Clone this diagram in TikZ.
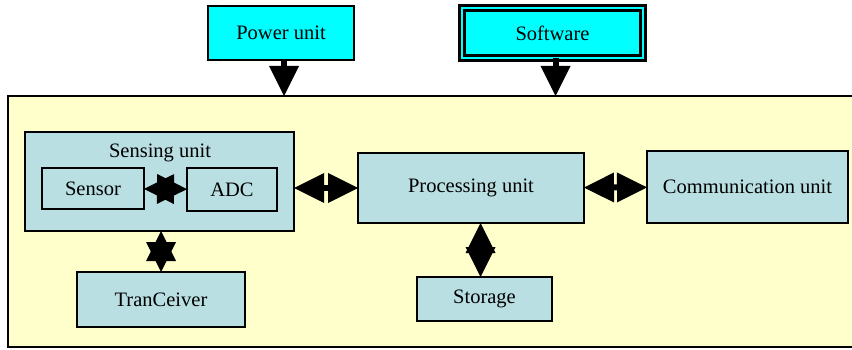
\documentclass[tikz,border=0pt]{standalone}
\usepackage{fontspec}
\setmainfont{Liberation Serif}
\usetikzlibrary{arrows.meta}
\definecolor{boardyellow}{HTML}{FFFFCC}
\definecolor{unitblue}{HTML}{B9DFE3}
\definecolor{supplycyan}{RGB}{0,255,255}
\tikzset{
	unit/.style={draw, line width=2.2pt, fill=unitblue, inner sep=0pt, outer sep=0pt,
		font=\fontsize{20.5}{24}\selectfont},
	supply/.style={unit, fill=supplycyan},
	title/.style={inner sep=0pt, font=\fontsize{20.5}{24}\selectfont},
	link/.style={line width=6pt},
	>={Triangle[length=30pt,width=30pt,line width=0pt]}
}
\begin{document}
\begin{tikzpicture}[x=1pt,y=-1pt]
		\useasboundingbox (0,0) rectangle (852,350);

		% sensor node board
		\node[unit, fill=boardyellow, minimum width=862pt, minimum height=251pt] (board) at (439,221.5) {};

		\node[supply, minimum width=146pt, minimum height=54pt] (power) at (281,33) {Power unit};
		\node[supply, line width=2.5pt, double=supplycyan, double distance=2.5pt,
			minimum width=181pt, minimum height=50pt] (software) at (552.5,33) {Software};

		\draw[link, ->] ([xshift=3pt]power.south) -- ([xshift=3pt]power.south |- board.north);
		\draw[link, ->] ([xshift=3pt]software.south) -- ([xshift=3pt]software.south |- board.north);

		\node[unit, minimum width=269pt, minimum height=99pt] (sensing) at (159.5,181.5) {};
		\node[title] (sensingtitle) at (160,153) {Sensing unit};
		\node[unit, minimum width=102pt, minimum height=41pt] (sensor) at (93,188.5) {Sensor};
		\node[unit, minimum width=90pt, minimum height=43pt] (adc) at (232,189.5) {ADC};

		\node[unit, minimum width=226pt, minimum height=70pt] (proc) at (471,188) {Processing unit};
		\node[unit, minimum width=201pt, minimum height=72pt] (comm) at (747.5,187) {Communication unit};
		\node[unit, minimum width=135pt, minimum height=44pt] (storage) at (484.5,299) {Storage};
		\node[unit, minimum width=168pt, minimum height=55pt] (trans) at (161,299.5) {TranCeiver};

		\draw[link, <->] (sensor) -- (adc);
		\draw[link, <->] (sensing.east |- proc.west) -- (proc.west);
		\draw[link, <->] (proc) -- (comm);
		\draw[link, <->] ([xshift=-4pt]storage.north |- proc.south) -- ([xshift=-4pt]storage.north);
		\draw[link, <->] (sensing.south -| trans.north) -- (trans.north);
	\end{tikzpicture}
\end{document}
